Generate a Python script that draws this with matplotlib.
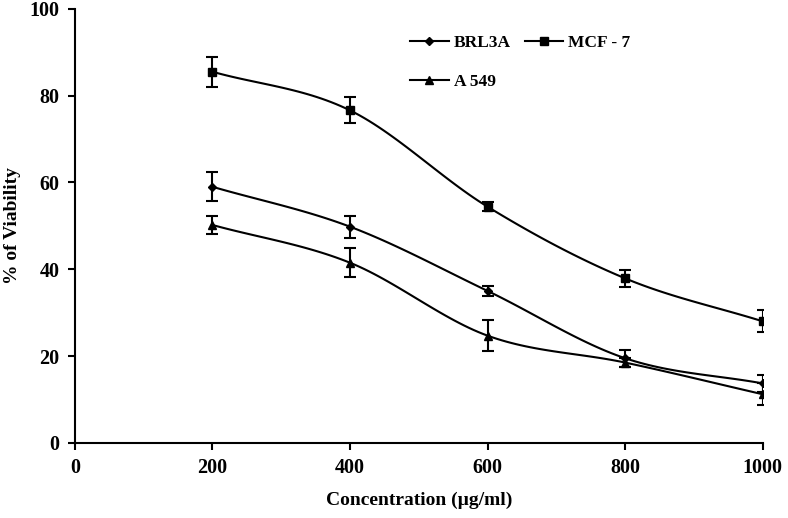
import numpy as np
import matplotlib
matplotlib.use("Agg")
import matplotlib.pyplot as plt

plt.rcParams['font.family'] = ['Liberation Serif', 'DejaVu Serif']
plt.rcParams['font.weight'] = 'bold'

conc = [200, 400, 600, 800, 1000]
brl3a = [59.0, 49.8, 35.0, 19.5, 13.7]
brl3a_err = [3.3, 2.5, 1.2, 2.0, 2.0]
mcf7 = [85.5, 76.6, 54.4, 37.9, 28.0]
mcf7_err = [3.4, 3.0, 1.0, 2.0, 2.5]
a549 = [50.2, 41.5, 24.7, 18.5, 11.2]
a549_err = [2.0, 3.3, 3.5, 1.0, 2.5]


def smooth(x, y, n=30):
    # catmull-rom, like excel's smoothed line
    x = np.asarray(x, float)
    y = np.asarray(y, float)
    px = np.concatenate([[2 * x[0] - x[1]], x, [2 * x[-1] - x[-2]]])
    py = np.concatenate([[2 * y[0] - y[1]], y, [2 * y[-1] - y[-2]]])
    xs, ys = [], []
    t = np.linspace(0, 1, n)
    for i in range(1, len(px) - 2):
        for p, out in ((px, xs), (py, ys)):
            p0, p1, p2, p3 = p[i - 1], p[i], p[i + 1], p[i + 2]
            out.extend(0.5 * (2 * p1 + (-p0 + p2) * t
                              + (2 * p0 - 5 * p1 + 4 * p2 - p3) * t ** 2
                              + (-p0 + 3 * p1 - 3 * p2 + p3) * t ** 3))
    return xs, ys


fig = plt.figure(figsize=(7.88, 5.18), dpi=100)
ax = fig.add_axes([0.095, 0.145, 0.873, 0.838])

series = [("BRL3A", brl3a, brl3a_err, "D", 4.5),
          ("A 549", a549, a549_err, "^", 5.5),
          ("MCF - 7", mcf7, mcf7_err, "s", 5.5)]
handles = []
for name, vals, err, mk, ms in series:
    sx, sy = smooth(conc, vals)
    ax.plot(sx, sy, color="black", lw=1.5)
    ax.errorbar(conc, vals, yerr=err, fmt="none", ecolor="black",
                elinewidth=1.5, capsize=4, capthick=1.5)
    ax.plot(conc, vals, ls="none", marker=mk, ms=ms, color="black")
    handles.append(ax.plot([], [], color="black", lw=1.5, marker=mk,
                           ms=ms, label=name)[0])

ax.set_xlim(0, 1000)
ax.set_ylim(0, 100)
ax.set_xticks(range(0, 1001, 200))
ax.set_yticks(range(0, 101, 20))
ax.spines['top'].set_visible(False)
ax.spines['right'].set_visible(False)
for s in ('left', 'bottom'):
    ax.spines[s].set_linewidth(1.5)
ax.tick_params(direction='out', width=1.5, length=5, labelsize=14.5, pad=6)
for lab in ax.get_xticklabels() + ax.get_yticklabels():
    lab.set_fontweight('bold')

ax.set_xlabel("Concentration (µg/ml)", fontsize=14, fontweight='bold', labelpad=10)
ax.set_ylabel("% of Viability", fontsize=14, fontweight='bold', labelpad=6)

ax.legend(handles=handles, ncol=2, frameon=False, loc='upper left',
          bbox_to_anchor=(0.465, 0.975), fontsize=12.5, handlelength=2.2,
          handletextpad=0.3, columnspacing=0.8, labelspacing=1.3)

fig.savefig("out.png", dpi=100)
